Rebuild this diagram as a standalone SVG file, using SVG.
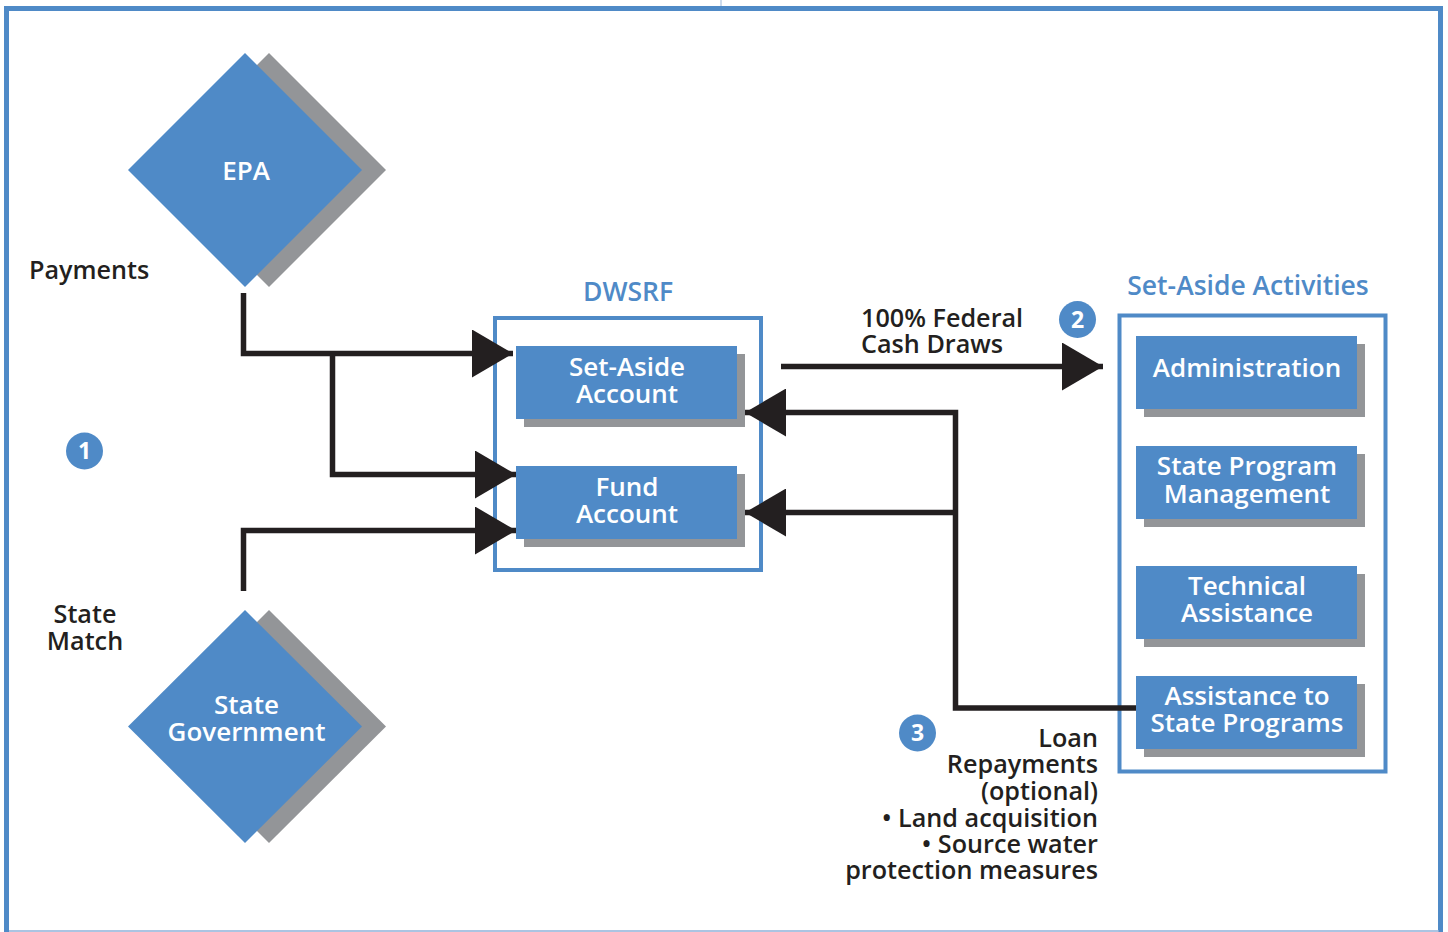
<svg xmlns="http://www.w3.org/2000/svg" width="1448" height="932" viewBox="0 0 1448 932">
<style>
.frame{fill:none;stroke:#4f8ac7;stroke-width:5}
.box{fill:#4f8ac7}
.shadow{fill:#939598}
.wt{fill:#fff;font-family:"Open Sans","Liberation Sans",sans-serif;font-weight:600;font-size:26px;text-anchor:middle}
.bt{fill:#231f20;font-family:"Open Sans","Liberation Sans",sans-serif;font-weight:600;font-size:25.2px}
.title{fill:#4f8ac7;font-family:"Open Sans","Liberation Sans",sans-serif;font-weight:600;font-size:26.5px;text-anchor:middle}
.num{fill:#fff;font-family:"Open Sans","Liberation Sans",sans-serif;font-weight:700;font-size:23px;text-anchor:middle}
.conn{fill:none;stroke:#231f20;stroke-width:5.5;stroke-linejoin:miter;stroke-linecap:butt}
</style>
<defs>
<marker id="ah" markerUnits="userSpaceOnUse" markerWidth="41" markerHeight="48" refX="41" refY="24" orient="auto" viewBox="0 0 41 48">
<path d="M0,0 L41,24 L0,48 z" fill="#231f20"/>
</marker>
</defs>
<rect width="1448" height="932" fill="#fff"/>
<rect class="frame" x="6.5" y="8.5" width="1434" height="935"/>
<line x1="721" y1="0" x2="721" y2="6" stroke="#9bb8dc" stroke-width="1"/>
<line x1="9" y1="931" x2="1439" y2="931" stroke="#8fb0d9" stroke-width="1.5"/>

<g id="epa">
<polygon class="shadow" points="269,53 386,170 269,287 152,170"/>
<polygon class="box" points="245,53 362,170 245,287 128,170"/>
<text class="wt" x="246" y="180">EPA</text>
</g>

<g id="state-government">
<polygon class="shadow" points="269,610 386,726.5 269,843 152,726.5"/>
<polygon class="box" points="245,610 362,726.5 245,843 128,726.5"/>
<text class="wt" x="246.5" y="714">State</text>
<text class="wt" x="246.5" y="741">Government</text>
</g>

<g id="dwsrf">
<text class="title" x="628" y="301">DWSRF</text>
<rect x="495" y="318" width="266" height="252" fill="none" stroke="#4f8ac7" stroke-width="4"/>
</g>

<g id="set-aside-account">
<rect class="shadow" x="524" y="354" width="221" height="73"/>
<rect class="box" x="516" y="346" width="221" height="73"/>
<text class="wt" x="627" y="376">Set-Aside</text>
<text class="wt" x="627" y="403">Account</text>
</g>

<g id="fund-account">
<rect class="shadow" x="524" y="474" width="221" height="73"/>
<rect class="box" x="516" y="466" width="221" height="73"/>
<text class="wt" x="627" y="496">Fund</text>
<text class="wt" x="627" y="523">Account</text>
</g>

<g id="set-aside-activities">
<text class="title" x="1248" y="295">Set-Aside Activities</text>
<rect x="1119.5" y="315.5" width="266" height="456" fill="none" stroke="#4f8ac7" stroke-width="4"/>
</g>

<g id="administration">
<rect class="shadow" x="1144" y="344" width="221" height="73"/>
<rect class="box" x="1136" y="336" width="221" height="73"/>
<text class="wt" x="1247" y="377">Administration</text>
</g>

<g id="state-program-management">
<rect class="shadow" x="1144" y="454" width="221" height="73"/>
<rect class="box" x="1136" y="446" width="221" height="73"/>
<text class="wt" x="1247" y="475">State Program</text>
<text class="wt" x="1247" y="503">Management</text>
</g>

<g id="technical-assistance">
<rect class="shadow" x="1144" y="574" width="221" height="73"/>
<rect class="box" x="1136" y="566" width="221" height="73"/>
<text class="wt" x="1247" y="595">Technical</text>
<text class="wt" x="1247" y="622">Assistance</text>
</g>

<g id="assistance-to-state-programs">
<rect class="shadow" x="1144" y="684" width="221" height="73"/>
<rect class="box" x="1136" y="676" width="221" height="73"/>
<text class="wt" x="1247" y="705">Assistance to</text>
<text class="wt" x="1247" y="732">State Programs</text>
</g>

<g id="connectors">
<path class="conn" d="M243.5,293 V353.5 H513" marker-end="url(#ah)"/>
<path class="conn" d="M332.5,353.5 V474.5 H516" marker-end="url(#ah)"/>
<path class="conn" d="M243.5,591 V530.5 H516" marker-end="url(#ah)"/>
<path class="conn" d="M781,366.5 H1103" marker-end="url(#ah)"/>
<path class="conn" d="M1136,708 H955.5 V412.5 H745" marker-end="url(#ah)"/>
<path class="conn" d="M955.5,512.5 H745" marker-end="url(#ah)"/>
</g>

<g id="labels">
<text class="bt" x="29" y="279">Payments</text>
<text class="bt" x="85" y="623" text-anchor="middle">State</text>
<text class="bt" x="85" y="650" text-anchor="middle">Match</text>
<text class="bt" x="861" y="327">100% Federal</text>
<text class="bt" x="861" y="353">Cash Draws</text>
<g text-anchor="end">
<text class="bt" x="1098" y="747">Loan</text>
<text class="bt" x="1098" y="773">Repayments</text>
<text class="bt" x="1098" y="800">(optional)</text>
<text class="bt" x="1098" y="827">• Land acquisition</text>
<text class="bt" x="1098" y="853">• Source water</text>
<text class="bt" x="1098" y="879">protection measures</text>
</g>
</g>

<g id="badges">
<circle cx="84.5" cy="451" r="18.5" fill="#4f8ac7"/>
<text class="num" x="84.5" y="459">1</text>
<circle cx="1077.5" cy="319.5" r="18.5" fill="#4f8ac7"/>
<text class="num" x="1077.5" y="327.5">2</text>
<circle cx="917.5" cy="733" r="18.5" fill="#4f8ac7"/>
<text class="num" x="917.5" y="741">3</text>
</g>
</svg>
